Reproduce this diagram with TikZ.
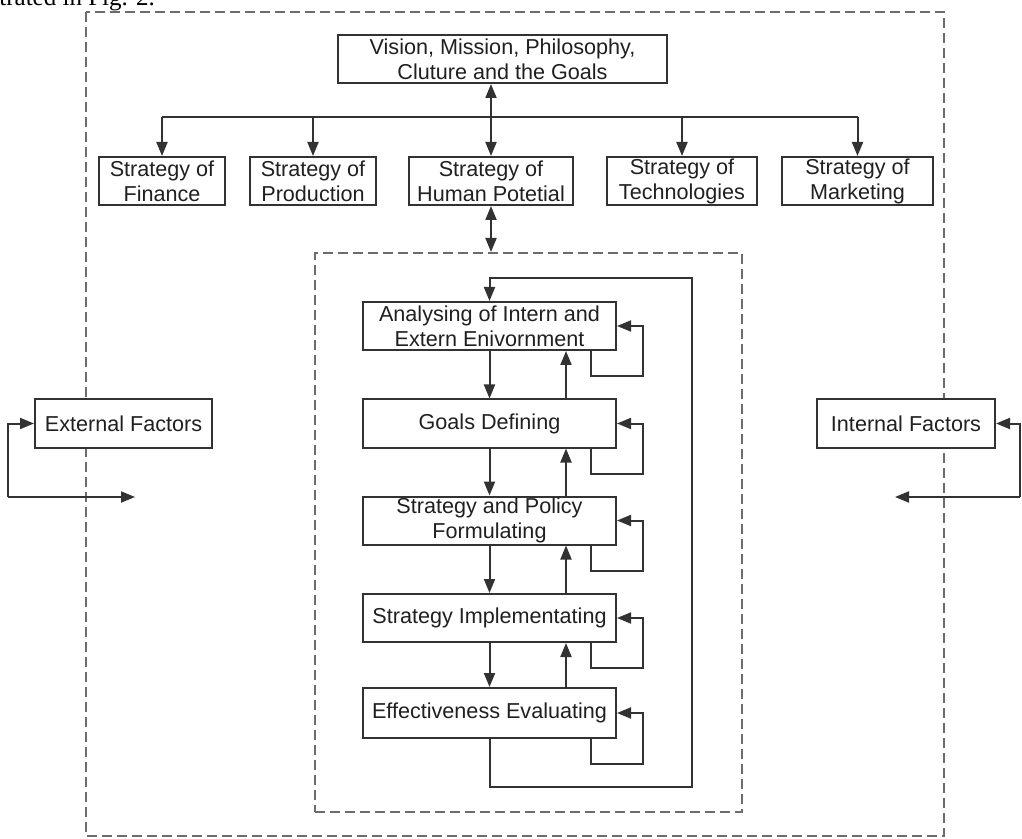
\documentclass[tikz,border=0pt]{standalone}
\usepackage{fontspec}
\newfontfamily\boxfont{Liberation Sans}
\newfontfamily\capfont{Liberation Serif}
\usetikzlibrary{arrows.meta,calc}
\definecolor{linec}{RGB}{50,50,50}
\definecolor{textc}{RGB}{32,32,32}
\definecolor{dashc}{RGB}{108,108,108}
\begin{document}
\begin{tikzpicture}[x=0.5pt,y=-0.5pt,
  box/.style={draw=linec, line width=1pt, fill=white, align=center, inner sep=0pt,
    text=textc, font=\boxfont\fontsize{10.8}{12.5}\selectfont},
  topbox/.style={box, minimum height=24pt},
  procbox/.style={box, minimum width=126.5pt, minimum height=24pt},
  dashbox/.style={draw=dashc, line width=1pt, dash pattern=on 5pt off 2.5pt},
  conn/.style={draw=linec, line width=1pt},
  arr/.style={conn, -{Triangle[length=7pt,width=5.5pt]}},
  darr/.style={conn, {Triangle[length=7pt,width=5.5pt]}-{Triangle[length=7pt,width=5.5pt]}}]
\useasboundingbox (0,0) rectangle (1022,839);

% caption fragment of the surrounding page
\node[anchor=base west, inner sep=0pt, font=\capfont\fontsize{12.5}{15}\selectfont] (cap) at (-1,6) {trated in Fig. 2.};

% outer frame of the enterprise
\draw[dashbox] (86,12) rectangle (944,836);

% inner frame of the strategic process
\node[dashbox, minimum width=213.5pt, minimum height=279.5pt, inner sep=0pt] (inner) at (528.5,532.5) {};

% top level
\node[topbox, minimum width=164.5pt] (vision) at (502.5,59) {Vision, Mission, Philosophy,\\Cluture and the Goals};

\node[topbox, minimum width=63pt]   (fin)  at (162,181)   {Strategy of\\Finance};
\node[topbox, minimum width=63pt]   (prod) at (313,181)   {Strategy of\\Production};
\node[topbox, minimum width=82pt]   (hum)  at (491,181)   {Strategy of\\Human Potetial};
\node[topbox, minimum width=75pt]   (tech) at (682,181)   {Strategy of\\Technologies};
\node[topbox, minimum width=75.5pt] (mark) at (857.5,181) {Strategy of\\Marketing};

\coordinate (bar) at (0,117);
\draw[conn] (fin.north |- bar) -- (mark.north |- bar);
\draw[arr] (fin.north |- bar) -- (fin.north);
\draw[arr] (prod.north |- bar) -- (prod.north);
\draw[arr] (tech.north |- bar) -- (tech.north);
\draw[arr] (mark.north |- bar) -- (mark.north);
\draw[darr] (vision.south -| hum.north) -- (hum.north);
\draw[darr] (hum.south) -- (hum.south |- inner.north);

% environment factors
\node[box, minimum width=88.5pt, minimum height=24.5pt] (ext) at (123.5,423.5) {External Factors};
\node[box, minimum width=89pt, minimum height=24.5pt] (int) at (906,423.5) {Internal Factors};

\coordinate (extl) at (8,497);
\coordinate (extin) at (135,497);
\draw[arr] (extl) |- (ext.west);
\draw[arr] (extl) -- (extin);

\coordinate (intl) at (1020,497);
\coordinate (intin) at (895,497);
\draw[arr] (intl) |- (int.east);
\draw[arr] (intl) -- (intin);

% process steps
\node[procbox] (a1) at (489.5,326)   {Analysing of Intern and\\Extern Enivornment};
\node[procbox] (a2) at (489.5,423.5) {Goals Defining};
\node[procbox] (a3) at (489.5,520.5) {Strategy and Policy\\Formulating};
\node[procbox] (a4) at (489.5,618)   {Strategy Implementating};
\node[procbox, minimum height=25pt] (a5) at (489.5,713) {Effectiveness Evaluating};

\foreach \u/\l in {a1/a2,a2/a3,a3/a4,a4/a5}{
  \draw[arr] (\u.south) -- (\l.north);
  \draw[arr] ($(\l.north)+(76.5,0)$) -- ($(\u.south)+(76.5,0)$);
}

% self-correction loops
\foreach \n in {a1,a2,a3,a4,a5}{
  \draw[arr] ($(\n.south)+(101.5,0)$) -- ++(0,25) -| ($(\n.east)+(26,0)$) -- (\n.east);
}

% feedback from evaluation back to analysis
\coordinate (fbb) at (692,787);
\coordinate (fbt) at (692,278);
\draw[arr] (a5.south) |- (fbb) -- (fbt) -| (a1.north);
\end{tikzpicture}
\end{document}
